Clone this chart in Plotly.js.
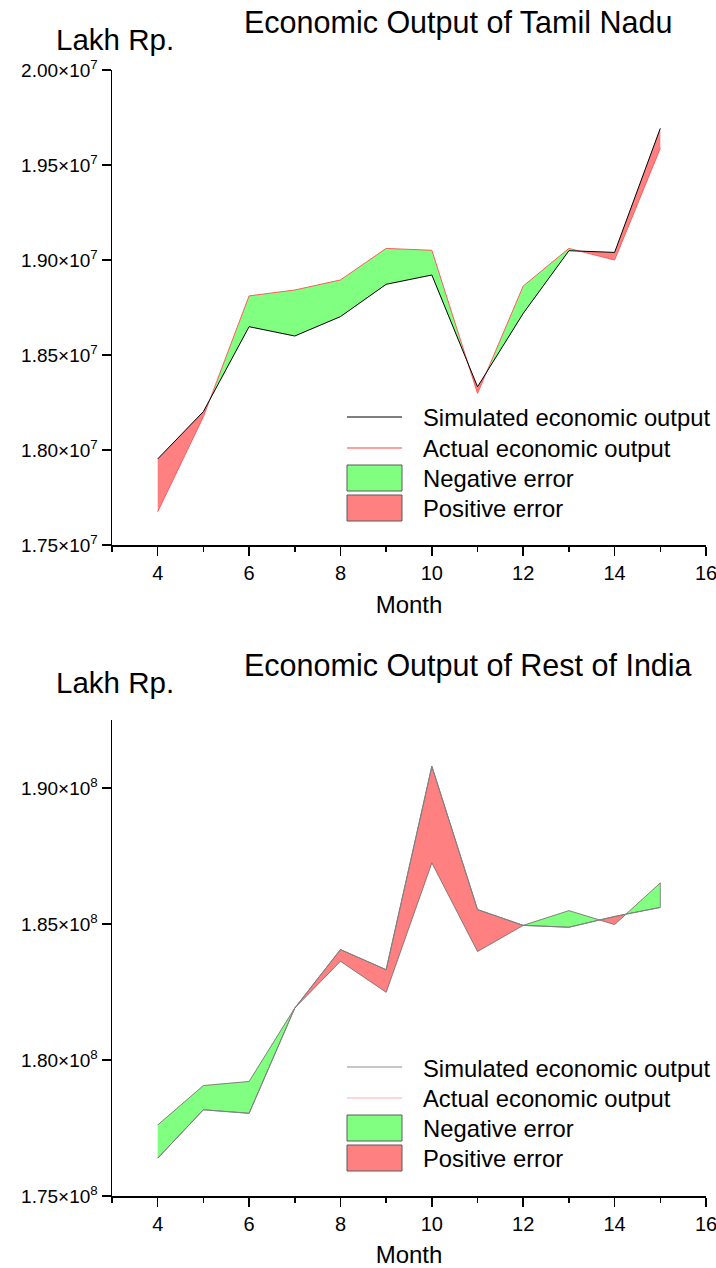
<!DOCTYPE html>
<html>
<head>
<meta charset="utf-8">
<script src="https://cdn.plot.ly/plotly-3.0.1.min.js"></script>
<style>
  html, body { margin: 0; padding: 0; background: #fff; }
  #chart { width: 716px; height: 1268px; }
</style>
</head>
<body>
<div id="chart"></div>
<script>
// Monthly economic output, simulated vs actual (Lakh Rp.)
const months = [4, 5, 6, 7, 8, 9, 10, 11, 12, 13, 14, 15];

const tnSimulated = [1.7953e7, 1.8202e7, 1.8649e7, 1.8600e7, 1.8702e7, 1.8872e7,
                     1.8921e7, 1.8333e7, 1.8719e7, 1.9049e7, 1.9040e7, 1.9693e7];
const tnActual    = [1.7675e7, 1.8175e7, 1.8811e7, 1.8842e7, 1.8895e7, 1.9061e7,
                     1.9051e7, 1.8298e7, 1.8863e7, 1.9061e7, 1.9000e7, 1.9588e7];

const roiSimulated = [1.7639e8, 1.7817e8, 1.7804e8, 1.8191e8, 1.8406e8, 1.8332e8,
                      1.9080e8, 1.8553e8, 1.8495e8, 1.8488e8, 1.8528e8, 1.8561e8];
const roiActual    = [1.7761e8, 1.7906e8, 1.7921e8, 1.8191e8, 1.8363e8, 1.8249e8,
                      1.8725e8, 1.8399e8, 1.8495e8, 1.8549e8, 1.8498e8, 1.8651e8];

const monthTicks  = [4, 6, 8, 10, 12, 14, 16];
const tnTickVals  = [1.75e7, 1.80e7, 1.85e7, 1.90e7, 1.95e7, 2.00e7];
const tnTickText  = ['1.75×10<sup>7</sup>', '1.80×10<sup>7</sup>', '1.85×10<sup>7</sup>',
                     '1.90×10<sup>7</sup>', '1.95×10<sup>7</sup>', '2.00×10<sup>7</sup>'];
const roiTickVals = [1.75e8, 1.80e8, 1.85e8, 1.90e8];
const roiTickText = ['1.75×10<sup>8</sup>', '1.80×10<sup>8</sup>', '1.85×10<sup>8</sup>',
                     '1.90×10<sup>8</sup>'];

const legendLabels = ['Simulated economic output', 'Actual economic output',
                      'Negative error', 'Positive error'];

const W = 716, H = 1268;
const FONT = 'Liberation Sans, Arial, Helvetica, sans-serif';
const GREEN = '#80ff80', RED = '#ff8080';

// pixel -> paper helpers (margins are zero)
const px = v => v / W;
const py = v => 1 - v / H;

// Split the band between the two series into same-sign runs,
// inserting the crossing points where the difference changes sign.
function errorBands(x, sim, act) {
  const pts = [];
  for (let i = 0; i < x.length; i++) {
    pts.push({ x: x[i], s: sim[i], a: act[i] });
    if (i < x.length - 1) {
      const d0 = sim[i] - act[i], d1 = sim[i + 1] - act[i + 1];
      if (d0 * d1 < 0) {
        const t = d0 / (d0 - d1);
        const xc = x[i] + t * (x[i + 1] - x[i]);
        const yc = sim[i] + t * (sim[i + 1] - sim[i]);
        pts.push({ x: xc, s: yc, a: yc });
      }
    }
  }
  const runs = [];
  let cur = null;
  for (let i = 0; i < pts.length - 1; i++) {
    const p = pts[i], q = pts[i + 1];
    const sign = ((p.s - p.a) + (q.s - q.a)) > 0 ? 1 : -1;
    if (!cur || cur.sign !== sign) { cur = { sign, pts: [p] }; runs.push(cur); }
    cur.pts.push(q);
  }
  return runs;
}

function bandTraces(x, sim, act, xa, ya, edge) {
  return errorBands(x, sim, act).map(run => {
    const fx = run.pts.map(p => p.x);
    const fs = run.pts.map(p => p.s);
    const fa = run.pts.map(p => p.a);
    return {
      type: 'scatter', mode: 'lines', xaxis: xa, yaxis: ya,
      x: fx.concat(fx.slice().reverse()),
      y: fs.concat(fa.slice().reverse()),
      fill: 'toself',
      fillcolor: run.sign > 0 ? RED : GREEN,
      line: edge ? { color: edge, width: 0.8 } : { width: 0 },
      hoverinfo: 'skip', showlegend: false
    };
  });
}

const traces = [];
// Tamil Nadu
traces.push(...bandTraces(months, tnSimulated, tnActual, 'x', 'y', null));
traces.push({ type: 'scatter', mode: 'lines', x: months, y: tnActual, xaxis: 'x', yaxis: 'y',
              line: { color: '#ff5c5c', width: 1 }, showlegend: false });
traces.push({ type: 'scatter', mode: 'lines', x: months, y: tnSimulated, xaxis: 'x', yaxis: 'y',
              line: { color: '#000000', width: 1 }, showlegend: false });
// Rest of India
traces.push({ type: 'scatter', mode: 'lines', x: months, y: roiActual, xaxis: 'x2', yaxis: 'y2',
              line: { color: '#ffc8c8', width: 1 }, showlegend: false });
traces.push(...bandTraces(months, roiSimulated, roiActual, 'x2', 'y2', '#707070'));
traces.push({ type: 'scatter', mode: 'lines', x: months, y: roiSimulated, xaxis: 'x2', yaxis: 'y2',
              line: { color: '#808080', width: 1 }, showlegend: false });

function xAxis(anchor) {
  return {
    domain: [px(112), px(706)], anchor: anchor, range: [3, 16],
    tickmode: 'array', tickvals: monthTicks,
    ticks: 'outside', ticklen: 9, tickwidth: 1.5, tickcolor: '#000',
    ticklabeloverflow: 'allow',
    minor: { tick0: 3, dtick: 1, ticks: 'outside', ticklen: 5, tickwidth: 1.5, tickcolor: '#000' },
    showline: true, linecolor: '#000', linewidth: 1.5,
    showgrid: false, zeroline: false,
    tickfont: { family: FONT, size: 20, color: '#000' },
    title: { text: 'Month', font: { family: FONT, size: 24, color: '#000' }, standoff: 13 },
    fixedrange: true
  };
}

function yAxis(anchor, top, bottom, range, vals, text, minorStep) {
  return {
    domain: [py(bottom), py(top)], anchor: anchor, range: range,
    tickmode: 'array', tickvals: vals, ticktext: text,
    ticks: 'outside', ticklen: 9, tickwidth: 1.5, tickcolor: '#000',
    ticklabeloverflow: 'allow',
    minor: { tick0: range[0], dtick: minorStep, ticks: 'outside', ticklen: 5, tickwidth: 1.5, tickcolor: '#000' },
    showline: true, linecolor: '#000', linewidth: 1.5,
    showgrid: false, zeroline: false,
    tickfont: { family: FONT, size: 19, color: '#000' },
    fixedrange: true
  };
}

// Hand-built legends and titles for both panels
const shapes = [];
const annotations = [];

function panelDecor(dy, title, simColor, actColor) {
  annotations.push({ xref: 'paper', yref: 'paper', x: px(242), y: py(23 + dy),
    xanchor: 'left', yanchor: 'middle', showarrow: false, text: title,
    font: { family: FONT, size: 30.5, color: '#000' } });
  annotations.push({ xref: 'paper', yref: 'paper', x: px(54), y: py(39 + dy),
    xanchor: 'left', yanchor: 'middle', showarrow: false, text: 'Lakh Rp.',
    font: { family: FONT, size: 29.5, color: '#000' } });

  const lx0 = 347, lx1 = 402, base = 418 + dy + (dy ? 7 : 0);
  shapes.push({ type: 'line', xref: 'paper', yref: 'paper',
    x0: px(lx0), x1: px(lx1), y0: py(base - 1), y1: py(base - 1),
    line: { color: simColor, width: 1 } });
  shapes.push({ type: 'line', xref: 'paper', yref: 'paper',
    x0: px(lx0), x1: px(lx1), y0: py(base + 30), y1: py(base + 30),
    line: { color: actColor, width: 1.5 } });
  shapes.push({ type: 'rect', xref: 'paper', yref: 'paper',
    x0: px(lx0), x1: px(lx1), y0: py(base + 47), y1: py(base + 73),
    fillcolor: GREEN, line: { color: '#5a5a5a', width: 1 } });
  shapes.push({ type: 'rect', xref: 'paper', yref: 'paper',
    x0: px(lx0), x1: px(lx1), y0: py(base + 77), y1: py(base + 103),
    fillcolor: RED, line: { color: '#5a5a5a', width: 1 } });
  legendLabels.forEach((lab, i) => {
    annotations.push({ xref: 'paper', yref: 'paper', x: px(421), y: py(base + i * 30.3),
      xanchor: 'left', yanchor: 'middle', showarrow: false, text: lab,
      font: { family: FONT, size: 23.8, color: '#000' } });
  });
}

panelDecor(0, 'Economic Output of Tamil Nadu', '#000000', '#ff8080');
panelDecor(643, 'Economic Output of Rest of India', '#8c8c8c', '#ffc8c8');

const layout = {
  width: W, height: H,
  margin: { l: 0, r: 0, t: 0, b: 0 },
  paper_bgcolor: '#ffffff', plot_bgcolor: '#ffffff',
  showlegend: false,
  xaxis: xAxis('y'),
  yaxis: yAxis('x', 70, 545, [1.75e7, 2.0e7], tnTickVals, tnTickText, 2.5e6),
  xaxis2: xAxis('y2'),
  yaxis2: yAxis('x2', 720, 1196, [1.75e8, 1.925e8], roiTickVals, roiTickText, 2.5e7),
  shapes: shapes,
  annotations: annotations
};

Plotly.newPlot('chart', traces, layout, { displayModeBar: false, staticPlot: true });
</script>
</body>
</html>
